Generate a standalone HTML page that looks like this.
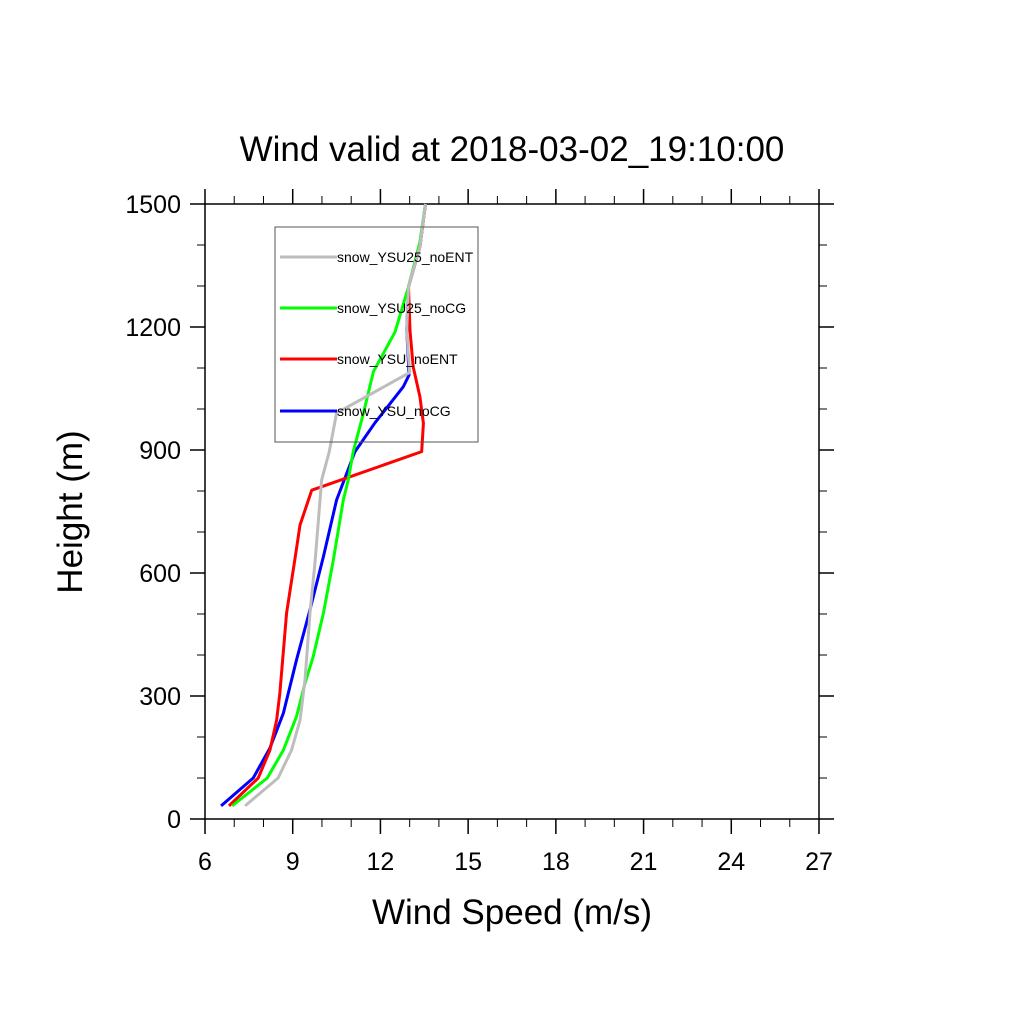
<!DOCTYPE html>
<html><head><meta charset="utf-8"><style>
body{margin:0;background:#fff;}
svg{display:block;font-family:"Liberation Sans",Arial,sans-serif;}
</style></head><body>
<svg id="chart" width="1024" height="1024" viewBox="0 0 1024 1024">
<text x="512" y="161" text-anchor="middle" font-size="35">Wind valid at 2018-03-02_19:10:00</text>
<g id="axes"></g>
<g id="series"></g>
<g id="legend"></g>
<text x="512" y="924" text-anchor="middle" font-size="35">Wind Speed (m/s)</text>
<text transform="translate(82,512) rotate(-90)" text-anchor="middle" font-size="35">Height (m)</text>
</svg>
<script>
const xTicks=[6,9,12,15,18,21,24,27];
const yTicks=[0,300,600,900,1200,1500];
const seriesNames=["snow_YSU25_noENT","snow_YSU25_noCG","snow_YSU_noENT","snow_YSU_noCG"];
const seriesColors=["#bdbdbd","#00ff00","#ff0000","#0000ff"];
const grayH=[32,100,168,241,339,502,624,827,896,990,1089,1193,1298,1396,1500];
const grayV=[7.37,8.5,8.96,9.25,9.42,9.59,9.76,9.99,10.25,10.5,13.0,12.9,12.96,13.35,13.54];
const greenH=[32,100,168,250,331,396,502,632,778,827,896,990,1091,1188,1298,1407,1500];
const greenV=[6.93,8.13,8.68,9.13,9.42,9.7,10.05,10.39,10.73,10.9,11.07,11.42,11.76,12.5,12.96,13.35,13.54];
const redH=[32,100,168,241,307,502,558,636,717,802,896,965,1030,1103,1193,1298,1396,1500];
const redV=[6.82,7.82,8.22,8.45,8.56,8.79,8.91,9.08,9.25,9.65,13.41,13.47,13.35,13.12,13.01,12.96,13.35,13.54];
const blueH=[32,100,173,258,388,510,640,778,896,966,1054,1083,1193,1298,1396,1500];
const blueV=[6.55,7.65,8.22,8.68,9.13,9.59,10.05,10.5,11.13,11.81,12.78,12.98,12.9,12.96,13.35,13.54];
const L=205,R=819,T=204,B=819,xmin=6,xmax=27,ymin=0,ymax=1500;
const sx=v=>L+(v-xmin)/(xmax-xmin)*(R-L);
const sy=v=>B-(v-ymin)/(ymax-ymin)*(B-T);
const NS="http://www.w3.org/2000/svg";
function mk(t,a,p){const e=document.createElementNS(NS,t);for(const k in a)e.setAttribute(k,a[k]);p.appendChild(e);return e;}
const ax=document.getElementById('axes');
let fr=mk('rect',{x:L,y:T,width:R-L,height:B-T,fill:'none',stroke:'#000','stroke-width':1.5},ax);


for(let v=xmin;v<=xmax;v++){const x=sx(v);const maj=(v-xmin)%3==0;const len=maj?15:8;
 let t1=mk('line',{x1:x,x2:x,y1:B,y2:B+len,stroke:'#000','stroke-width':maj?1.5:1},ax);
 
 let t2=mk('line',{x1:x,x2:x,y1:T,y2:T-len,stroke:'#000','stroke-width':maj?1.5:1},ax);
 }
xTicks.forEach(v=>{let t=mk('text',{x:sx(v),y:B+51,'text-anchor':'middle','font-size':25},ax);t.textContent=v;
 });
for(let v=ymin;v<=ymax;v+=100){const y=sy(v);const maj=v%300==0;const len=maj?15:8;
 let t1=mk('line',{x1:L,x2:L-len,y1:y,y2:y,stroke:'#000','stroke-width':maj?1.5:1},ax);
 
 let t2=mk('line',{x1:R,x2:R+len,y1:y,y2:y,stroke:'#000','stroke-width':maj?1.5:1},ax);
 }
yTicks.forEach(v=>{let t=mk('text',{x:L-24,y:sy(v)+9,'text-anchor':'end','font-size':25},ax);t.textContent=v;
 });
const sg=document.getElementById('series');
const data=[[grayV,grayH],[greenV,greenH],[redV,redH],[blueV,blueH]];
const order=[3,2,1,0];
order.forEach(i=>{const [vs,hs]=data[i];const pts=vs.map((v,j)=>sx(v)+','+sy(hs[j])).join(' ');
 let p=mk('polyline',{points:pts,fill:'none',stroke:seriesColors[i],'stroke-width':3,'stroke-linejoin':'round'},sg);
 
 });
const lg=document.getElementById('legend');
let box=mk('rect',{x:275,y:227,width:203,height:215,fill:'none',stroke:'#555','stroke-width':1},lg);

const ly=[257,308,359,411];
seriesNames.forEach((n,i)=>{
 let l=mk('line',{x1:280,x2:337,y1:ly[i],y2:ly[i],stroke:seriesColors[i],'stroke-width':3},lg);
 
 let t=mk('text',{x:337,y:ly[i]+5,'font-size':14},lg);t.textContent=n;
 });
</script>
</body></html>
